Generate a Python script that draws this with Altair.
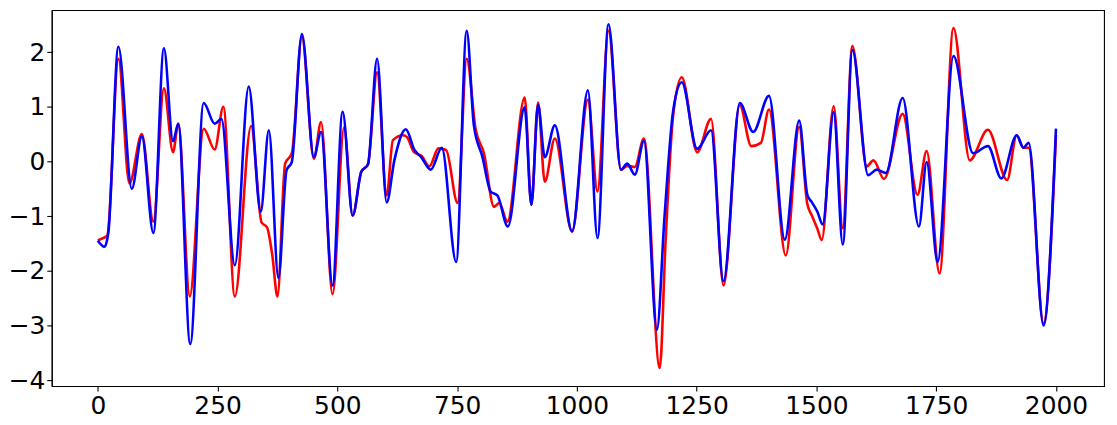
import altair as alt
import pandas as pd

red_x = [0, 12, 20, 43, 66, 92, 116, 138, 157, 168, 192, 221, 244, 262, 286, 320, 342, 353, 364, 375,
         391, 405, 426, 451, 466, 490, 514, 532, 550, 564, 583, 603, 616, 637, 645, 660, 676, 692, 711, 727,
         751, 770, 789, 806, 827, 838, 855, 891, 905, 919, 933, 954, 990, 1023, 1043, 1066, 1092, 1105, 1121,
         1140, 1173, 1185, 1201, 1219, 1251, 1280, 1306, 1340, 1364, 1384, 1401, 1436, 1464, 1481, 1490, 1502,
         1511, 1536, 1555, 1575, 1605, 1619, 1641, 1680, 1711, 1730, 1757, 1786, 1820, 1858, 1898, 1918, 1932,
         1943, 1974, 2000]
red_y = [-1.44, -1.40, -1.35, 1.88, -0.40, 0.50, -1.10, 1.34, 0.17, 0.69, -2.47, 0.60, 0.22, 1.00, -2.47, 0.65, -1.12, -1.20, -1.70, -2.47,
         -0.04, 0.15, 2.28, 0.05, 0.72, -2.43, 0.62, -0.99, -0.19, -0.05, 1.63, -0.62, 0.39, 0.48, 0.45, 0.17, 0.10, -0.09, 0.24, 0.21,
         -0.76, 1.88, 0.57, 0.15, -0.83, -0.76, -1.10, 1.17, -0.79, 1.08, -0.37, 0.42, -1.28, 1.13, -0.55, 2.39, -0.15, -0.08, -0.10,
         0.42, -3.78, -1.49, 0.85, 1.54, 0.17, 0.78, -2.27, 1.03, 0.28, 0.34, 0.95, -1.72, 0.63, -0.78, -0.98, -1.23,
         -1.44, 1.01, -1.22, 2.11, -0.09, 0.02, -0.32, 0.87, -0.61, 0.19, -2.05, 2.44, 0.02, 0.58, -0.34, 0.48, 0.25,
         0.25, -2.96, 0.48]

blue_x = [0, 14, 22, 43, 71, 92, 116, 138, 157, 168, 193, 221, 244, 258, 286, 315, 340, 357, 377, 394,
          405, 426, 451, 466, 490, 511, 532, 550, 564, 583, 603, 619, 643, 661, 675, 695, 718, 748, 770, 785,
          803, 820, 834, 856, 891, 905, 919, 933, 954, 990, 1023, 1043, 1066, 1092, 1105, 1121, 1140, 1167, 1183,
          1201, 1219, 1251, 1280, 1306, 1340, 1368, 1401, 1434, 1464, 1481, 1490, 1502, 1513, 1536, 1555, 1575,
          1608, 1626, 1645, 1680, 1714, 1730, 1753, 1786, 1827, 1858, 1886, 1918, 1932, 1943, 1974, 2000]
blue_y = [-1.45, -1.56, -1.30, 2.10, -0.50, 0.46, -1.31, 2.07, 0.37, 0.69, -3.34, 1.07, 0.69, 0.78, -1.90, 1.37, -0.92, 0.57, -2.13, -0.16,
          -0.01, 2.33, 0.08, 0.54, -2.27, 0.91, -0.99, -0.19, -0.05, 1.88, -0.75, 0.02, 0.59, 0.21, 0.08, -0.15, 0.25, -1.84, 2.39, 0.66,
          0.08, -0.55, -0.62, -1.19, 0.99, -0.79, 1.03, 0.08, 0.66, -1.28, 1.30, -1.40, 2.51, -0.15, -0.04, -0.24, 0.38, -3.08, -1.00,
          0.93, 1.45, 0.23, 0.57, -2.19, 1.07, 0.54, 1.20, -1.43, 0.75, -0.61, -0.74, -0.92, -1.15, 0.90, -1.52, 2.04,
          -0.25, -0.15, -0.21, 1.16, -1.19, -0.01, -1.84, 1.93, 0.15, 0.28, -0.31, 0.48, 0.25, 0.34, -3.00, 0.60]

x_ticks = [0, 250, 500, 750, 1000, 1250, 1500, 1750, 2000]
y_ticks = [-4, -3, -2, -1, 0, 1, 2]

red_df = pd.DataFrame({"x": red_x, "y": red_y})
blue_df = pd.DataFrame({"x": blue_x, "y": blue_y})

xs = alt.Scale(domain=[-96.1, 2100.3], nice=False, zero=False)
ys = alt.Scale(domain=[-4.109, 2.769], nice=False, zero=False)
common = dict(title=None, grid=False, labelOverlap=False, labelColor="black",
              labelFont="DejaVu Sans", labelFontSize=25, domainColor="black",
              domainWidth=1.1, tickColor="black", tickSize=5, tickWidth=1.1)
xa = alt.Axis(values=x_ticks, format="d", labelFlush=False, labelPadding=3, **common)
ya = alt.Axis(values=y_ticks, format="d", labelPadding=2, **common)

def layer(df, color):
    return alt.Chart(df).mark_line(color=color, strokeWidth=2.6, interpolate="monotone").encode(
        x=alt.X("x:Q", scale=xs, axis=xa),
        y=alt.Y("y:Q", scale=ys, axis=ya),
    )

chart = alt.layer(layer(red_df, "#ff0000"), layer(blue_df, "#0000ff")).properties(
    width=1058, height=378,
    autosize=alt.AutoSizeParams(type="none"),
    padding={"left": 44, "top": 1, "right": 5, "bottom": 34},
).configure_view(stroke="black", strokeWidth=1.1)

chart.save("out.html", embed_options={"renderer": "svg", "actions": False})
